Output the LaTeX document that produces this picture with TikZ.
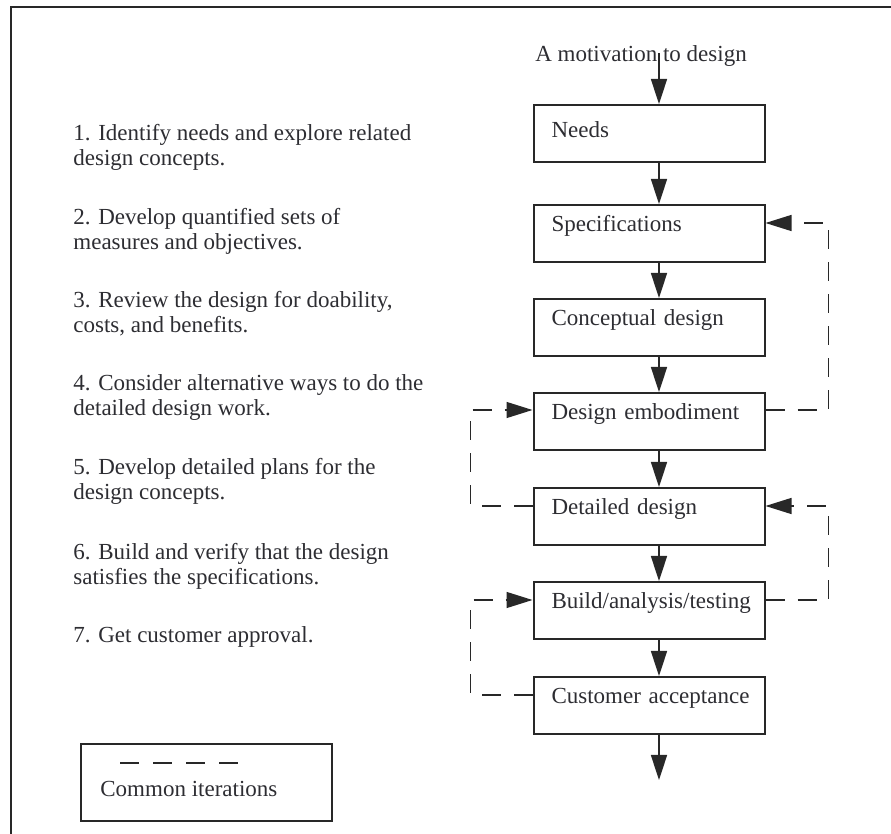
\documentclass[tikz,border=0pt]{standalone}
\usepackage{fontspec}
\setmainfont{Liberation Serif}
\usetikzlibrary{arrows.meta,calc}
\definecolor{ink}{RGB}{40,40,40}
\definecolor{txt}{RGB}{45,45,50}
\begin{document}
\begin{tikzpicture}[x=0.5pt,y=-0.5pt,
  every node/.style={font=\fontsize{11.5}{12.5}\selectfont, text=txt},
  stagebox/.style={draw=ink, line width=1pt, text width=97.5pt, align=left,
    inner xsep=9pt, inner ysep=6pt, text height=7.5pt, text depth=9pt, anchor=north},
  note/.style={align=left, inner sep=0pt, anchor=base west},
  flow/.style={draw=ink, line width=0.8pt, -{Triangle[length=12.5pt,width=8pt]}},
  iter/.style={draw=ink, line width=0.7pt, dash pattern=on 9.5pt off 6.5pt,
    -{Triangle[length=13pt,width=8pt]}},
  legenddash/.style={draw=ink, line width=0.7pt, dash pattern=on 9.5pt off 7pt},
  frame/.style={draw=ink, line width=0.7pt}]
\useasboundingbox (0,0) rectangle (891,834);

% page frame (left and top rules)
\draw[frame] (11,834) -- (11,7) -- (891,7);

% numbered activity list (base anchor sits on the last line)
\node[note] (n1) at (73,166) {1. Identify needs and explore related\\design concepts.};
\node[note] (n2) at (73,250) {2. Develop quantified sets of\\measures and objectives.};
\node[note] (n3) at (73,333) {3. Review the design for doability,\\costs, and benefits.};
\node[note] (n4) at (73,416) {4. Consider alternative ways to do the\\detailed design work.};
\node[note] (n5) at (73,500) {5. Develop detailed plans for the\\design concepts.};
\node[note] (n6) at (73,585) {6. Build and verify that the design\\satisfies the specifications.};
\node[note] (n7) at (73,643) {7. Get customer approval.};

% design stages
\node[note, anchor=base] (motiv) at (641,62) {A motivation to design};
\node[stagebox, text height=10.5pt, text depth=6pt] (needs) at (649,104) {Needs};
\node[stagebox] (spec)    at (649,204) {Specifications};
\node[stagebox] (concept) at (649,298) {Conceptual design};
\node[stagebox] (embod)   at (649,392) {Design embodiment};
\node[stagebox] (detail)  at (649,487) {Detailed design};
\node[stagebox] (build)   at (649,581) {Build/analysis/testing};
\node[stagebox] (cust)    at (649,676) {\mbox{Customer acceptance}};
\coordinate (out) at (659,780);

% main flow (the arrows run a little right of the box centres)
\draw[flow] ($(needs.north |- motiv.center)+(10,-3)$) -- ($(needs.north)+(10,0)$);
\draw[flow] ($(needs.south)+(10,0)$) -- ($(spec.north)+(10,0)$);
\draw[flow] ($(spec.south)+(10,0)$) -- ($(concept.north)+(10,0)$);
\draw[flow] ($(concept.south)+(10,0)$) -- ($(embod.north)+(10,0)$);
\draw[flow] ($(embod.south)+(10,0)$) -- ($(detail.north)+(10,0)$);
\draw[flow] ($(detail.south)+(10,0)$) -- ($(build.north)+(10,0)$);
\draw[flow] ($(build.south)+(10,0)$) -- ($(cust.north)+(10,0)$);
\draw[flow] ($(cust.south)+(10,0)$) -- (out);

% common iterations
\draw[iter] ($(embod.north east)+(0,18)$) -| ($(spec.north east)+(63,19)$) -- ($(spec.north east)+(0,19)$);
\draw[iter] ($(detail.north west)+(0,19)$) -| ($(embod.north west)+(-62,18)$) -- ($(embod.north west)+(0,18)$);
\draw[iter] ($(build.north east)+(0,19)$) -| ($(detail.north east)+(63,19)$) -- ($(detail.north east)+(0,19)$);
\draw[iter] ($(cust.north west)+(0,19)$) -| ($(build.north west)+(-62,19)$) -- ($(build.north west)+(0,19)$);

% legend
\node[draw=ink, line width=0.8pt, minimum width=125.5pt, minimum height=38.5pt,
  inner sep=0pt, anchor=north west] (legend) at (80,743) {};
\draw[legenddash] ($(legend.north west)+(40,20)$) -- ++(119,0);
\node[note] (legtext) at (100,797) {Common iterations};
\end{tikzpicture}
\end{document}
